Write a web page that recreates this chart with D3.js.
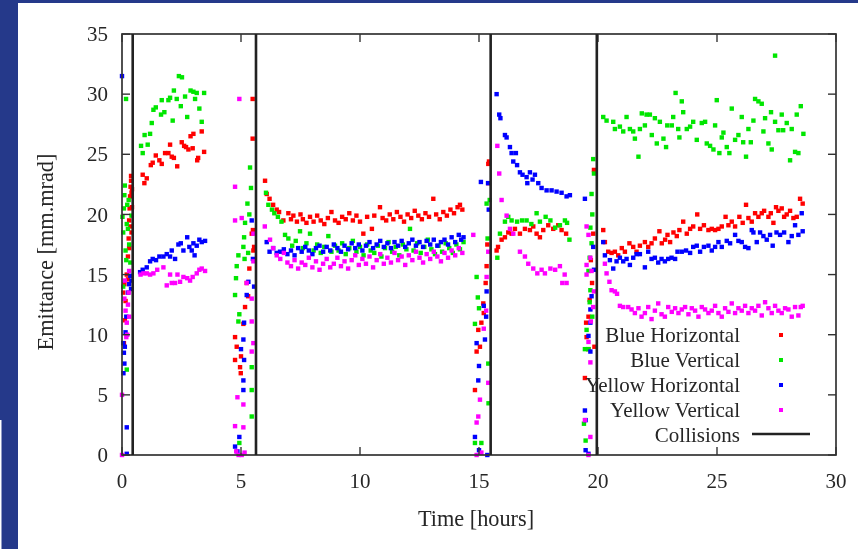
<!DOCTYPE html>
<html><head><meta charset="utf-8">
<script src="https://cdn.jsdelivr.net/npm/d3@7"></script>
<style>html,body{margin:0;padding:0;background:#25398a;}svg{display:block}</style>
</head><body>
<svg id="c" width="858" height="549"></svg>
<script>
const xTicks = [0,5,10,15,20,25,30];
const yTicks = [0,5,10,15,20,25,30,35];
const collisions = [0.45, 5.63, 15.49, 19.95];
const seriesNames = ["Blue Horizontal","Blue Vertical","Yellow Horizontal","Yellow Vertical"];
const seriesColors = ["#ff0000","#00e600","#0000ff","#ff00ff"];

const blueH = [
[0.05,13.5],[0.08,9.3],[0.1,14.2],[0.12,11.2],[0.15,12.8],[0.2,15.0],[0.25,16.5],[0.25,14.6],[0.28,18.0],[0.3,19.5],[0.3,17.2],[0.32,20.5],[0.34,21.5],[0.35,19.0],[0.36,22.3],[0.38,22.8],[0.38,23.2],[0.4,21.8],[0.4,18.5],[0.42,20.6],[0.42,22.1],
[0.87,23.3],[0.94,22.6],[1.04,23.0],[1.21,24.1],[1.29,24.3],[1.42,24.9],[1.57,24.5],[1.67,24.2],[1.81,25.1],[1.95,25.1],[2.02,25.8],[2.09,24.8],[2.18,24.7],[2.32,24.0],[2.51,26.0],[2.61,25.7],[2.69,25.6],[2.79,25.4],[2.88,26.5],[3.0,26.7],[2.97,25.5],[3.16,24.5],[3.2,24.7],[3.35,26.9],[3.45,25.2],
[4.75,9.8],[4.82,9.0],[4.75,7.9],[4.96,7.3],[4.99,6.8],[5.10,10.9],[5.17,12.3],[5.24,14.3],[5.45,18.4],[5.55,17.3],[5.49,29.6],[5.49,26.3],[5.5,18.7],[5.52,17.0],[5.35,15.5],[5.3,13.2],[5.0,8.2],
[6.01,22.8],[6.08,21.7],[6.2,21.3],[6.35,20.8],[6.5,20.4],[6.6,20.2],[6.78,19.5],[6.99,20.1],[7.1,19.6],[7.2,19.9],[7.35,19.4],[7.5,20.0],[7.6,19.6],[7.75,19.3],[7.9,19.8],[8.05,19.4],[8.2,19.9],[8.35,19.5],[8.5,19.2],[8.65,19.7],[8.8,20.2],[8.95,19.5],[9.1,19.3],[9.25,19.8],[9.4,19.6],[9.55,20.1],[9.7,19.5],[9.85,19.9],[10.0,19.4],[10.14,18.4],[10.3,19.8],[10.5,18.8],[10.6,19.9],[10.84,20.6],[10.95,19.7],[11.1,19.5],[11.25,20.0],[11.4,19.6],[11.55,20.2],[11.7,19.8],[11.85,19.4],[12.0,20.0],[12.15,19.7],[12.3,20.3],[12.45,19.9],[12.6,19.6],[12.75,20.1],[12.9,19.8],[13.08,21.3],[13.2,20.0],[13.35,19.6],[13.5,20.2],[13.65,19.9],[13.8,20.4],[13.95,20.1],[14.1,20.6],[14.2,20.8],[14.3,20.4],
[14.83,5.4],[14.9,8.6],[14.97,10.4],[15.04,9.0],[15.18,12.6],[15.2,11.8],[15.28,14.3],[15.32,15.7],[15.39,22.6],[15.39,24.2],[15.42,24.4],[15.35,17.5],[15.1,11.0],
[15.74,17.0],[15.8,17.3],[15.95,17.9],[16.09,18.1],[16.23,18.5],[16.37,18.4],[16.51,18.8],[16.72,18.4],[16.93,18.8],[17.14,18.7],[17.28,19.0],[17.42,18.4],[17.56,18.1],[17.7,18.7],[17.91,19.1],[18.12,18.8],[18.33,19.1],[18.47,18.7],[18.66,18.4],
[19.45,6.4],[19.52,9.8],[19.6,8.8],[19.6,11.5],[19.65,12.9],[19.75,14.3],[19.7,16.2],[19.8,18.4],[19.83,23.7],[19.85,9.0],[19.5,11.0],
[20.22,18.7],[20.29,17.7],[20.43,16.9],[20.57,16.8],[20.71,16.9],[20.85,16.6],[21.0,17.2],[21.13,16.9],[21.32,17.6],[21.48,17.3],[21.62,16.9],[21.76,17.4],[21.97,17.7],[22.11,17.3],[22.25,17.6],[22.39,18.0],[22.58,18.6],[22.68,17.6],[22.82,17.9],[22.92,18.3],[23.03,17.7],[23.17,18.5],[23.31,18.2],[23.42,18.7],[23.58,19.4],[23.73,18.4],[23.87,18.8],[24.0,19.0],[24.17,20.0],[24.29,18.8],[24.45,19.1],[24.64,18.7],[24.78,18.8],[24.92,18.7],[25.06,18.8],[25.2,19.0],[25.36,19.8],[25.48,19.1],[25.62,19.4],[25.76,19.0],[25.94,19.8],[26.08,19.3],[26.22,20.8],[26.32,19.7],[26.46,19.4],[26.6,20.1],[26.74,19.8],[26.88,20.1],[26.98,20.3],[27.16,19.8],[27.26,20.1],[27.37,19.3],[27.48,20.6],[27.58,20.3],[27.72,20.5],[27.82,19.8],[27.93,20.0],[28.07,20.3],[28.21,19.7],[28.35,19.8],[28.49,21.3],[28.6,20.9]
];

const blueV = [
[0.02,19.8],[0.05,18.5],[0.08,20.5],[0.1,21.6],[0.12,22.4],[0.15,17.0],[0.18,16.2],[0.2,19.2],[0.22,20.8],[0.25,18.8],[0.3,17.5],[0.35,16.0],[0.17,29.6],[0.2,7.1],[0.05,14.0],[0.28,21.2],[0.4,19.9],
[0.80,25.7],[0.87,25.1],[1.08,25.8],[0.95,26.6],[1.18,26.7],[1.25,27.6],[1.32,28.7],[1.42,28.9],[1.67,29.5],[1.64,28.3],[1.78,28.5],[1.95,29.5],[2.02,29.7],[2.13,27.8],[2.18,30.3],[2.30,29.6],[2.39,31.5],[2.52,31.4],[2.47,29.0],[2.65,29.8],[2.74,28.1],[2.88,30.3],[3.0,30.2],[3.07,29.6],[3.14,30.1],[3.25,28.8],[3.35,27.7],[3.45,30.1],
[5.38,23.9],[5.42,22.2],[5.27,20.9],[5.35,20.0],[5.17,19.3],[5.13,18.1],[5.10,17.3],[4.89,16.6],[4.82,15.7],[4.79,14.7],[4.75,13.3],[4.89,11.1],[4.93,11.7],[5.45,5.4],[5.45,3.2],[4.93,1.0],[5.45,7.3],[5.3,16.8],[5.15,16.3],
[6.05,21.8],[6.15,20.8],[6.3,20.4],[6.4,20.1],[6.55,19.8],[6.7,19.4],[6.85,18.3],[6.99,18.0],[7.15,17.4],[7.3,17.8],[7.48,18.6],[7.6,17.2],[7.75,17.6],[7.9,18.4],[8.05,17.0],[8.2,17.5],[8.35,16.8],[8.5,17.3],[8.67,18.2],[8.8,16.9],[8.95,17.4],[9.1,17.0],[9.25,17.6],[9.4,16.7],[9.55,17.2],[9.7,17.8],[9.85,16.9],[10.0,17.3],[10.15,16.6],[10.3,17.5],[10.45,17.0],[10.6,16.8],[10.75,17.4],[10.9,16.5],[11.05,17.2],[11.2,17.7],[11.35,16.9],[11.5,17.3],[11.65,16.6],[11.8,17.5],[11.95,17.1],[12.1,18.8],[12.25,17.0],[12.4,17.6],[12.55,16.8],[12.7,17.3],[12.85,17.9],[13.0,17.1],[13.15,16.7],[13.3,17.4],[13.45,16.9],[13.6,17.6],[13.75,17.2],[13.9,16.8],[14.05,17.5],[14.2,17.1],[14.35,17.7],
[15.32,20.9],[15.36,18.0],[14.9,14.8],[14.95,13.1],[15.0,12.2],[14.83,10.9],[15.39,7.6],[15.4,4.3],[14.83,1.0],[15.1,1.0],[15.45,21.2],
[15.77,16.4],[15.88,18.4],[16.09,19.4],[16.23,19.8],[16.37,19.5],[16.6,19.4],[16.81,19.5],[17.0,19.5],[17.2,19.2],[17.42,20.1],[17.56,19.4],[17.8,19.8],[18.0,19.5],[18.2,18.9],[18.4,19.1],[18.61,19.5],[18.8,17.9],[18.7,19.3],
[19.8,24.6],[19.83,23.4],[19.73,21.7],[19.76,20.0],[19.68,18.9],[19.73,17.6],[19.65,16.4],[19.6,15.3],[19.68,13.7],[19.65,12.7],[19.76,11.5],[19.52,10.4],[19.6,8.8],[19.41,2.6],[19.48,1.2],[19.45,8.8],
[20.22,28.1],[20.36,27.8],[20.64,27.7],[20.71,27.1],[20.92,27.3],[21.06,26.9],[21.2,28.1],[21.34,27.1],[21.48,26.9],[21.55,26.3],[21.7,24.8],[21.76,27.1],[21.84,28.4],[22.04,28.3],[22.18,28.3],[21.97,27.4],[22.26,26.6],[22.39,28.0],[22.47,25.9],[22.6,27.7],[22.75,26.3],[22.86,25.6],[22.91,27.4],[23.1,27.4],[23.16,28.1],[23.26,30.1],[23.37,27.1],[23.42,26.4],[23.52,29.4],[23.58,28.5],[23.73,27.1],[23.87,27.3],[24.0,27.7],[24.15,26.2],[24.36,27.6],[24.5,27.7],[24.57,25.9],[24.71,25.7],[24.85,25.4],[24.92,27.4],[24.99,29.5],[25.1,25.1],[25.2,26.4],[25.27,26.8],[25.41,25.6],[25.52,25.1],[25.62,28.8],[25.76,26.2],[25.9,26.6],[26.04,28.1],[26.1,26.0],[26.22,24.8],[26.32,27.1],[26.42,26.0],[26.53,27.8],[26.6,29.6],[26.74,29.4],[26.88,29.2],[26.95,26.9],[27.02,28.0],[27.16,25.9],[27.27,28.5],[27.3,25.4],[27.44,27.7],[27.58,27.0],[27.72,28.3],[27.78,27.0],[27.93,27.6],[28.07,24.5],[28.14,27.1],[28.28,25.2],[28.35,28.3],[28.42,25.1],[28.52,29.0],[28.63,26.7],[27.44,33.2]
];

const yellowH = [
[0.0,31.5],[0.05,9.3],[0.08,8.5],[0.1,7.6],[0.12,9.0],[0.06,6.8],[0.2,2.3],[0.2,0.1],[0.25,13.5],[0.3,14.2],[0.35,14.9],[0.38,13.8],[0.4,14.5],[0.15,10.2],[0.18,11.5],
[0.76,15.2],[0.87,15.4],[1.04,15.6],[1.18,16.1],[1.29,16.3],[1.43,16.2],[1.57,16.5],[1.74,16.5],[1.88,16.7],[2.02,16.5],[2.09,17.0],[2.23,16.3],[2.37,17.5],[2.47,17.6],[2.58,17.0],[2.74,18.1],[2.83,17.3],[2.93,17.0],[3.0,17.6],[3.14,17.4],[3.25,17.9],[3.35,17.7],[3.49,17.8],[3.05,16.6],
[5.45,19.5],[5.31,14.4],[5.24,13.3],[5.13,11.0],[5.10,9.6],[5.0,8.8],[5.13,7.9],[5.10,5.4],[4.93,1.5],[4.75,0.7],[5.55,14.0],[5.5,16.3],[5.1,6.2],[4.85,0.3],
[6.08,17.7],[6.2,16.9],[6.35,17.2],[6.5,16.8],[6.64,16.9],[6.8,17.1],[6.95,16.7],[7.1,17.0],[7.25,16.6],[7.4,17.2],[7.55,16.9],[7.7,17.3],[7.85,17.0],[8.0,16.7],[8.15,17.2],[8.3,17.4],[8.45,16.9],[8.6,17.3],[8.75,17.0],[8.9,17.5],[9.05,17.2],[9.2,16.9],[9.35,17.4],[9.5,17.1],[9.65,17.6],[9.8,17.2],[9.95,17.5],[10.1,17.0],[10.25,17.4],[10.4,17.7],[10.55,17.2],[10.7,17.5],[10.85,17.8],[11.0,17.3],[11.15,17.6],[11.3,17.2],[11.45,17.7],[11.6,17.4],[11.75,17.8],[11.9,17.3],[12.05,17.6],[12.2,17.9],[12.35,17.4],[12.5,17.7],[12.65,17.3],[12.8,17.8],[12.95,17.5],[13.1,17.9],[13.25,17.4],[13.4,17.7],[13.55,17.9],[13.7,17.5],[13.85,18.1],[14.0,17.7],[14.15,18.3],[14.25,17.9],[14.35,18.1],
[15.08,22.7],[15.38,22.6],[15.41,20.4],[15.32,13.6],[15.25,9.6],[14.9,9.3],[15.0,7.4],[14.97,6.2],[14.83,1.5],[15.0,0.4],[15.35,0.0],[15.3,11.5],[15.2,12.4],
[15.74,30.0],[15.85,28.3],[15.9,28.0],[16.09,26.6],[16.16,26.4],[16.3,25.6],[16.37,25.1],[16.55,25.1],[16.44,24.4],[16.6,24.1],[16.72,23.5],[16.83,23.3],[17.0,23.1],[17.14,23.5],[17.25,22.9],[17.35,23.3],[17.49,22.6],[17.63,22.2],[17.84,22.0],[18.05,22.0],[18.26,21.9],[18.47,21.8],[18.68,21.5],[18.82,21.6],[17.03,22.6],
[19.45,21.3],[19.8,17.3],[19.83,15.4],[19.73,13.2],[19.68,12.1],[19.68,11.0],[19.6,9.9],[19.68,8.6],[19.45,3.7],[19.48,2.9],[19.48,0.4],[19.6,0.1],
[20.22,17.7],[20.29,16.6],[20.5,16.2],[20.64,15.5],[20.78,16.1],[20.92,16.4],[21.06,16.1],[21.2,16.3],[21.34,15.8],[21.48,16.4],[21.62,16.7],[21.76,16.7],[21.97,15.6],[22.11,16.9],[22.25,16.3],[22.39,16.4],[22.53,16.0],[22.67,16.3],[22.81,16.1],[22.95,16.3],[23.09,16.4],[23.24,16.3],[23.34,16.9],[23.52,16.9],[23.7,17.0],[23.87,16.8],[24.0,17.3],[24.15,17.4],[24.29,16.9],[24.45,17.3],[24.64,17.4],[24.78,17.0],[24.92,17.3],[25.06,17.7],[25.2,17.3],[25.41,17.8],[25.55,17.6],[25.76,18.3],[25.9,17.8],[26.04,17.7],[26.18,17.3],[26.32,17.2],[26.46,18.7],[26.53,18.5],[26.67,17.7],[26.81,18.5],[26.95,18.2],[27.09,17.9],[27.23,18.3],[27.34,17.4],[27.5,18.5],[27.65,18.3],[27.82,18.5],[28.0,17.7],[28.14,18.2],[28.28,19.1],[28.42,18.3],[28.56,20.1],[28.6,18.6]
];

const yellowV = [
[0.0,5.0],[0.0,0.0],[0.1,13.0],[0.15,12.0],[0.2,11.0],[0.22,10.0],[0.25,12.5],[0.28,13.5],[0.3,11.5],[0.18,9.8],[0.12,14.5],[0.3,15.3],
[0.78,15.0],[0.9,15.1],[1.04,15.1],[1.18,15.0],[1.32,15.1],[1.48,15.4],[1.74,15.6],[1.88,14.1],[2.02,15.0],[2.09,14.3],[2.23,14.3],[2.33,15.0],[2.44,14.4],[2.58,14.8],[2.74,14.7],[2.86,14.5],[2.97,14.8],[3.14,15.1],[3.25,15.4],[3.35,15.5],[3.49,15.3],
[4.75,22.3],[4.75,19.5],[5.03,19.7],[5.52,18.4],[5.52,16.1],[5.24,14.3],[5.45,13.0],[5.45,11.1],[5.52,9.3],[5.45,8.6],[4.85,4.8],[5.1,4.2],[4.75,2.4],[5.1,2.3],[4.9,0.0],[5.03,0.0],[4.93,29.6],[4.8,0.3],[5.15,0.2],
[6.0,19.0],[6.22,17.9],[6.35,17.2],[6.5,16.6],[6.65,16.3],[6.8,16.8],[6.95,16.0],[7.1,15.7],[7.25,16.2],[7.4,15.5],[7.55,16.0],[7.7,15.8],[7.85,16.4],[8.0,15.6],[8.15,16.1],[8.3,15.4],[8.45,15.9],[8.6,16.3],[8.75,15.6],[8.9,15.9],[9.05,16.4],[9.2,15.7],[9.35,16.1],[9.5,15.5],[9.65,16.2],[9.8,16.6],[9.95,15.8],[10.1,16.3],[10.25,15.9],[10.4,16.5],[10.55,15.6],[10.7,16.2],[10.85,16.7],[11.0,15.9],[11.15,16.4],[11.3,16.0],[11.45,16.8],[11.6,16.2],[11.75,16.5],[11.9,15.8],[12.05,16.6],[12.2,16.2],[12.35,16.9],[12.5,16.4],[12.65,16.0],[12.8,16.7],[12.95,16.3],[13.1,16.9],[13.25,16.5],[13.4,16.1],[13.55,16.8],[13.7,16.4],[13.85,17.0],[14.0,16.6],[14.15,17.2],[14.3,16.8],
[14.76,18.3],[15.39,16.9],[15.32,14.8],[15.04,4.6],[14.97,3.2],[14.9,2.7],[15.39,6.0],[15.3,12.0],[15.2,10.5],[14.9,0.0],[15.1,0.2],
[15.77,25.7],[15.85,23.4],[15.95,21.2],[16.16,19.9],[16.3,18.8],[16.44,18.4],[16.72,16.9],[16.93,16.5],[17.07,15.9],[17.28,15.5],[17.45,15.1],[17.63,15.4],[17.77,15.1],[18.0,15.5],[18.2,15.4],[18.4,15.7],[18.6,15.0],[18.68,14.3],[18.5,14.3],
[19.52,19.0],[19.6,18.3],[19.68,16.4],[19.73,15.3],[19.83,13.6],[19.8,12.3],[19.7,11.1],[19.6,9.4],[19.68,7.7],[19.68,1.5],[19.6,0.0],[19.45,2.9],[19.52,15.0],[19.52,15.8],
[20.29,15.9],[20.36,15.1],[20.48,14.4],[20.57,13.7],[20.71,13.6],[20.8,13.4],[20.92,12.4],[21.06,12.3],[21.27,12.3],[21.41,12.1],[21.55,11.8],[21.7,12.2],[21.83,11.5],[21.97,11.8],[22.11,12.3],[22.25,11.3],[22.39,12.0],[22.53,12.6],[22.67,11.7],[22.81,11.5],[22.95,12.3],[23.1,11.9],[23.24,12.2],[23.38,11.8],[23.52,12.1],[23.66,12.3],[23.8,11.7],[23.94,12.2],[24.08,12.0],[24.22,11.5],[24.36,12.3],[24.5,12.1],[24.64,11.8],[24.78,12.0],[24.92,12.4],[25.06,11.8],[25.2,11.5],[25.34,12.2],[25.48,11.9],[25.62,12.6],[25.76,11.8],[25.9,12.2],[26.04,12.0],[26.18,12.4],[26.32,11.8],[26.46,12.2],[26.6,12.0],[26.74,12.4],[26.88,11.6],[27.02,12.7],[27.16,12.2],[27.3,11.8],[27.44,12.4],[27.58,12.0],[27.72,11.8],[27.86,12.2],[28.0,12.1],[28.14,11.5],[28.28,12.3],[28.42,11.6],[28.52,12.3],[28.6,12.4]
];

const allSeries = [blueH, blueV, yellowH, yellowV];

const svg = d3.select("#c");
const W = 858, H = 549;
const pL = 122, pR = 836, pT = 34, pB = 455;
const x = d3.scaleLinear().domain([0,30]).range([pL,pR]);
const y = d3.scaleLinear().domain([0,35]).range([pB,pT]);
const font = "'Liberation Serif','Times New Roman',serif";
const textColor = "#262626";

const defs = svg.append("defs");
defs.append("filter").attr("id","soft").attr("filterUnits","userSpaceOnUse")
  .attr("x",0).attr("y",0).attr("width",W).attr("height",H)
  .append("feGaussianBlur").attr("stdDeviation",0.7);
defs.append("filter").attr("id","softT").attr("filterUnits","userSpaceOnUse")
  .attr("x",0).attr("y",0).attr("width",W).attr("height",H)
  .append("feGaussianBlur").attr("stdDeviation",0.4);
defs.append("clipPath").attr("id","plotclip").append("rect")
  .attr("x",pL-3).attr("y",pT).attr("width",pR-pL+3).attr("height",pB-pT+3);

// background frame
svg.append("rect").attr("x",0).attr("y",0).attr("width",W).attr("height",H).attr("fill","#25398a");
svg.append("rect").attr("x",18).attr("y",3).attr("width",W-18).attr("height",H-3).attr("fill","#ffffff");
svg.append("rect").attr("x",0).attr("y",420).attr("width",1.5).attr("height",H-420).attr("fill","#ffffff");

// points
const pts = svg.append("g").attr("clip-path","url(#plotclip)").append("g").attr("filter","url(#soft)");
allSeries.forEach((s,i) => {
  pts.append("g").selectAll("rect").data(s).join("rect")
    .attr("x", d => x(d[0]) - 2.2).attr("y", d => y(d[1]) - 2.2)
    .attr("width", 4.4).attr("height", 4.4)
    .attr("fill", seriesColors[i]);
});

// axes box
const ax = svg.append("g").attr("filter","url(#softT)");
ax.append("rect").attr("x",pL).attr("y",pT).attr("width",pR-pL).attr("height",pB-pT)
  .attr("fill","none").attr("stroke","#333").attr("stroke-width",1.7);

// ticks (inward, mirrored)
const tl = 8;
xTicks.forEach(t => {
  ax.append("line").attr("x1",x(t)).attr("x2",x(t)).attr("y1",pB).attr("y2",pB-tl).attr("stroke","#333").attr("stroke-width",1.4);
  ax.append("line").attr("x1",x(t)).attr("x2",x(t)).attr("y1",pT).attr("y2",pT+tl).attr("stroke","#333").attr("stroke-width",1.4);
});
yTicks.forEach(t => {
  ax.append("line").attr("x1",pL).attr("x2",pL+tl).attr("y1",y(t)).attr("y2",y(t)).attr("stroke","#333").attr("stroke-width",1.4);
  ax.append("line").attr("x1",pR).attr("x2",pR-tl).attr("y1",y(t)).attr("y2",y(t)).attr("stroke","#333").attr("stroke-width",1.4);
});

// collision lines
collisions.forEach(c => {
  ax.append("line").attr("x1",x(c)).attr("x2",x(c)).attr("y1",pT).attr("y2",pB)
    .attr("stroke","#222").attr("stroke-width",2.6);
});

// tick labels
const tg = svg.append("g").attr("filter","url(#softT)").attr("font-family",font).attr("font-size",21).attr("fill",textColor);
yTicks.forEach(t => {
  tg.append("text").attr("x",108).attr("y",y(t)).attr("dy","0.34em").attr("text-anchor","end").text(t);
});
xTicks.forEach(t => {
  tg.append("text").attr("x",x(t)).attr("y",488).attr("text-anchor","middle").text(t);
});

// axis titles
tg.append("text").attr("x",476).attr("y",526).attr("text-anchor","middle").attr("font-size",22.3).text("Time [hours]");
tg.append("text").attr("transform","translate(53,252) rotate(-90)").attr("text-anchor","middle").attr("font-size",22.3)
  .text("Emittance  [mm.mrad]");

// legend
const lg = svg.append("g").attr("font-family",font).attr("font-size",21).attr("fill",textColor).attr("filter","url(#softT)");
const legY0 = 342, legDy = 25;
seriesNames.forEach((n,i) => {
  lg.append("text").attr("x",740).attr("y",legY0 + i*legDy).attr("text-anchor","end").text(n);
  lg.append("rect").attr("x",779).attr("y",legY0 + i*legDy - 9).attr("width",4).attr("height",4)
    .attr("fill",seriesColors[i]);
});
lg.append("text").attr("x",740).attr("y",legY0 + 4*legDy).attr("text-anchor","end").text("Collisions");
lg.append("line").attr("x1",752).attr("x2",810).attr("y1",legY0 + 4*legDy - 8).attr("y2",legY0 + 4*legDy - 8)
  .attr("stroke","#222").attr("stroke-width",2.6);
</script>
</body></html>
